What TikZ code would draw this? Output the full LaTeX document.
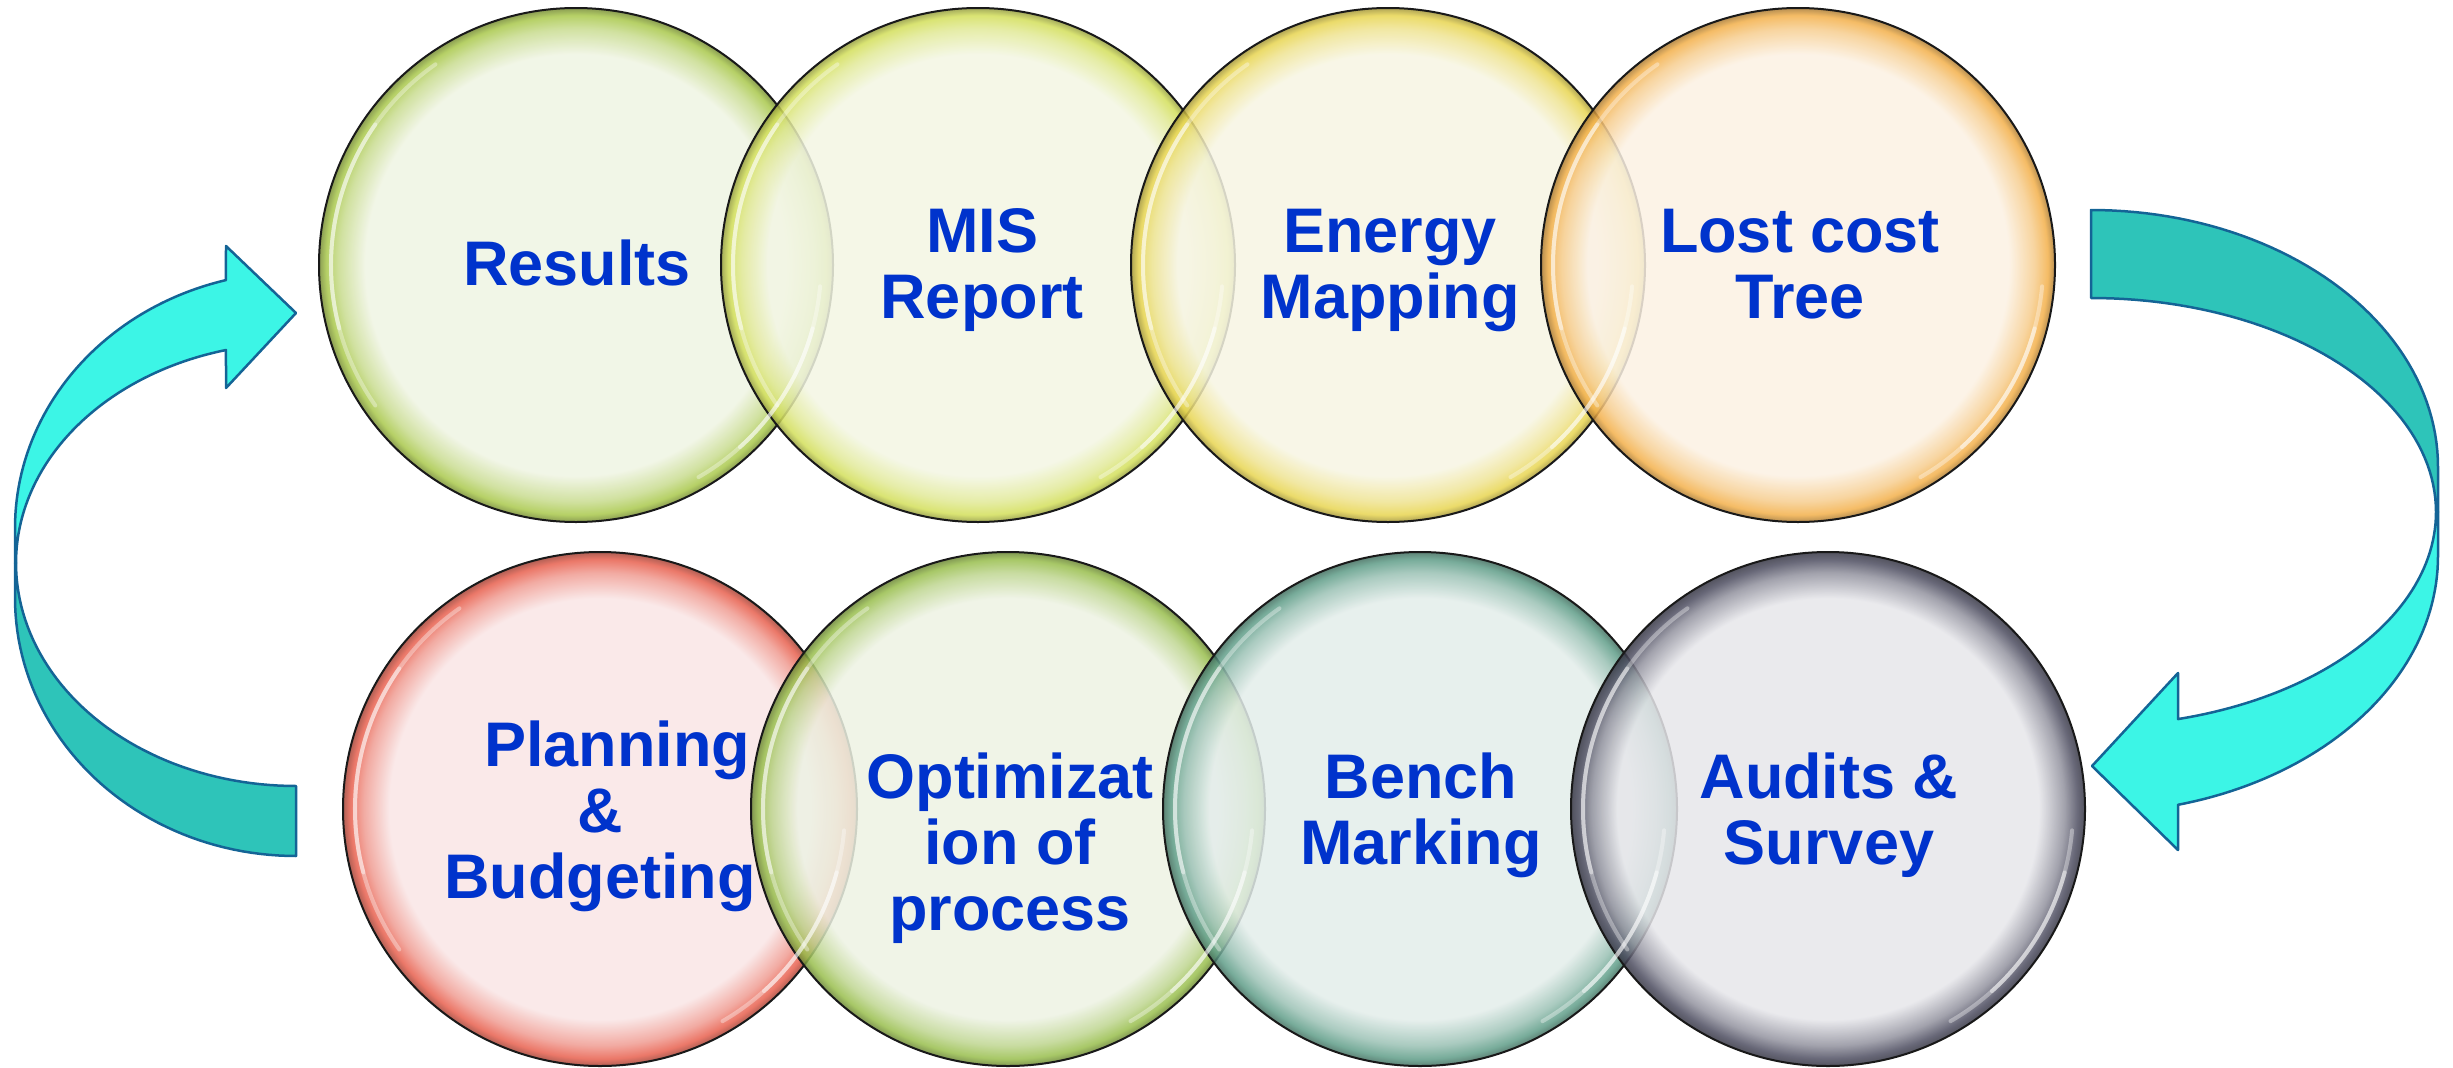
\documentclass[tikz,border=0pt]{standalone}
\usepackage{fontspec}
\setmainfont{Liberation Sans}
\usetikzlibrary{calc}

% glass-ball colours: pale centre and tinted rim
\newcommand\glassdef[3]{%
  \definecolor{c#1}{HTML}{#2}%
  \definecolor{r#1}{HTML}{#3}%
  \pgfdeclareradialshading{glass#1}{\pgfpoint{0bp}{0bp}}{%
    color(0bp)=(c#1); color(20.5bp)=(c#1); color(23bp)=(r#1!55!c#1);
    color(24.3bp)=(r#1); color(25bp)=(r#1!70!black);
    color(50bp)=(r#1!70!black)}}
\glassdef{res}{EFF4E3}{A9C84B}
\glassdef{mis}{F3F6E3}{D3DF5A}
\glassdef{energy}{F7F5E3}{E8D550}
\glassdef{lost}{FBF1E3}{F3B04A}
\glassdef{plan}{F9E5E5}{E8604E}
\glassdef{optim}{EDF2E3}{98BE4C}
\glassdef{bench}{E3EDEA}{5F9D88}
\glassdef{audit}{E6E6EA}{4D4D60}

\definecolor{textblue}{RGB}{0,51,204}
\definecolor{bandteal}{RGB}{46,196,185}
\definecolor{bandcyan}{RGB}{60,245,230}
\definecolor{bandline}{RGB}{20,100,150}

\begin{document}
\begin{tikzpicture}[x=1pt,y=-1pt,
  ball/.style={circle, minimum size=514pt, inner sep=0pt, shading=glass#1,
    fill opacity=0.85, draw=black!90, draw opacity=1, line width=2pt},
  gleam/.style={draw=white, line width=4pt, line cap=round, opacity=#1},
  lbl/.style={anchor=base, inner sep=0pt, text=textblue,
    font=\fontsize{63}{66}\selectfont\bfseries},
  tealband/.style={fill=bandteal, draw=bandline, line width=2.5pt, line join=round},
  cyanband/.style={fill=bandcyan, draw=bandline, line width=2.5pt, line join=round}]
\useasboundingbox (0,0) rectangle (2453,1068);

% top row
\node[ball=res]    (res)    at (576,265)  {};
\node[ball=mis]    (mis)    at (978,265)  {};
\node[ball=energy] (energy) at (1388,265) {};
\node[ball=lost]   (lost)   at (1798,265) {};
% bottom row
\node[ball=plan]   (plan)   at (600,809)  {};
\node[ball=optim]  (optim)  at (1008,809) {};
\node[ball=bench]  (bench)  at (1420,809) {};
\node[ball=audit]  (audit)  at (1828,809) {};

% reflections on the glass, close to the rim
\foreach \b in {res,mis,energy,lost,plan,optim,bench,audit}{
  \draw[gleam=0.35] ([shift={(125:245pt)}]\b.center) arc[start angle=125, end angle=215, radius=245pt];
  \draw[gleam=0.45] ([shift={(145:245pt)}]\b.center) arc[start angle=145, end angle=195, radius=245pt];
  \draw[gleam=0.35] ([shift={(-5:245pt)}]\b.center) arc[start angle=-5, end angle=-60, radius=245pt];
  \draw[gleam=0.45] ([shift={(-15:245pt)}]\b.center) arc[start angle=-15, end angle=-48, radius=245pt];
}

% labels
\node[lbl] (tres)    at (577,285)  {\begin{tabular}[t]{@{}c@{}}Results\end{tabular}};
\node[lbl] (tmis)    at (982,252)  {\begin{tabular}[t]{@{}c@{}}MIS\\Report\end{tabular}};
\node[lbl] (tenergy) at (1390,252) {\begin{tabular}[t]{@{}c@{}}Energy\\Mapping\end{tabular}};
\node[lbl] (tlost)   at (1800,252) {\begin{tabular}[t]{@{}c@{}}Lost cost\\Tree\end{tabular}};
\node[lbl] (tplan)   at (600,766)  {\begin{tabular}[t]{@{}c@{}}\hspace*{34pt}Planning\\\&\\Budgeting\end{tabular}};
\node[lbl] (toptim)  at (1010,798) {\begin{tabular}[t]{@{}c@{}}Optimizat\\ion of\\process\end{tabular}};
\node[lbl] (tbench)  at (1421,798) {\begin{tabular}[t]{@{}c@{}}Bench\\Marking\end{tabular}};
\node[lbl] (taudit)  at (1829,798) {\begin{tabular}[t]{@{}c@{}}Audits \&\\Survey\end{tabular}};

% left ribbon arrow: back side (lower half)
\draw[tealband] (15,563) -- plot[domain=0:90, samples=50, variable=\a] ({296-281*cos(\a)},{598+258*sin(\a)})
  -- plot[domain=90:0, samples=50, variable=\a] ({296-280*cos(\a)},{563+223*sin(\a)}) -- cycle;
% left ribbon arrow: front side with head pointing right
\draw[cyanband] (15,563) -- plot[domain=0:75.57, samples=50, variable=\a] ({296-281*cos(\a)},{528-256*sin(\a)})
  -- (226,246) -- (296,313) -- (226,388)
  -- plot[domain=75.52:0, samples=50, variable=\a] ({296-280*cos(\a)},{563-220*sin(\a)}) -- cycle;

% right ribbon arrow: back side (upper half)
\draw[tealband] (2091,210) -- plot[domain=90:0, samples=50, variable=\a] ({2091+347*cos(\a)},{467-257*sin(\a)})
  -- (2438,512)
  -- plot[domain=0:90, samples=50, variable=\a] ({2091+345*cos(\a)},{512-214*sin(\a)}) -- cycle;
% right ribbon arrow: front side with head pointing left
\draw[cyanband] (2438,512) -- plot[domain=0:75.48, samples=50, variable=\a] ({2091+347*cos(\a)},{556+257*sin(\a)})
  -- (2178,850) -- (2092,766) -- (2178,673)
  -- plot[domain=75.39:0, samples=50, variable=\a] ({2091+345*cos(\a)},{512+214*sin(\a)}) -- cycle;
\end{tikzpicture}
\end{document}
